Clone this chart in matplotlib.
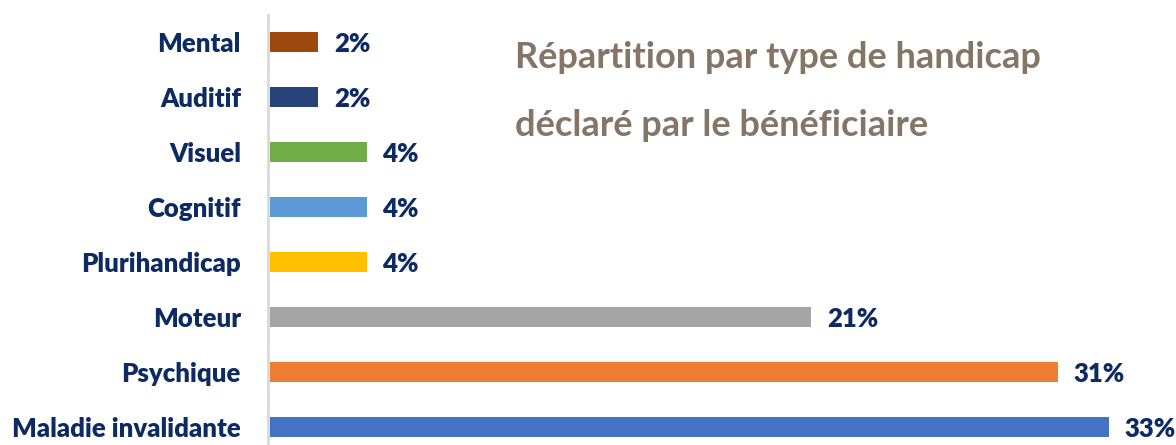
"""Répartition par type de handicap déclaré par le bénéficiaire"""
import numpy as np
from matplotlib import pyplot as plt

categories = ['Maladie invalidante', 'Psychique', 'Moteur', 'Plurihandicap',
              'Cognitif', 'Visuel', 'Auditif', 'Mental']
values = [33, 31, 21.3, 3.8, 3.8, 3.8, 1.9, 1.9]
labels = ['33%', '31%', '21%', '4%', '4%', '4%', '2%', '2%']
colors = ['#4472C4', '#ED7D31', '#A5A5A5', '#FFC000',
          '#5B9BD5', '#70AD47', '#264478', '#9E480E']

NAVY = '#0E2A63'
TITLE = '#857567'
FONT = 'Lato'
WEIGHT = 800


def plot():
    fig = plt.figure(figsize=(11.76, 4.45), dpi=100)
    ax = fig.add_axes([268 / 1176, 0, 0.7583, 430 / 445])

    y = np.arange(len(categories))
    ax.barh(y, values, height=0.364, color=colors)

    for yi, v, lab in zip(y, values, labels):
        ax.text(v + 0.62, yi - 0.03, lab, va='center', ha='left', color=NAVY,
                fontsize=18.5, fontweight=WEIGHT, family=FONT)

    ax.set_xlim(-0.079, 35)
    ax.set_ylim(-0.327, 7.49)
    ax.set_yticks(y)
    ax.set_yticklabels(categories, color=NAVY, fontsize=18.5,
                       fontweight=WEIGHT, family=FONT)
    ax.tick_params(axis='y', length=0, pad=19.5)
    ax.set_xticks([])
    for side in ['top', 'right', 'bottom']:
        ax.spines[side].set_visible(False)
    ax.spines['left'].set_color('#D9D9D9')
    ax.spines['left'].set_linewidth(2)

    fig.text(515 / 1176, 1 - 58 / 445, 'Répartition par type de handicap',
             color=TITLE, fontsize=26, fontweight='bold', family=FONT,
             va='center', ha='left')
    fig.text(515 / 1176, 1 - 125 / 445, 'déclaré par le bénéficiaire',
             color=TITLE, fontsize=26, fontweight='bold', family=FONT,
             va='center', ha='left')

    fig.savefig('out.png', dpi=100)


if __name__ == '__main__':
    plot()
